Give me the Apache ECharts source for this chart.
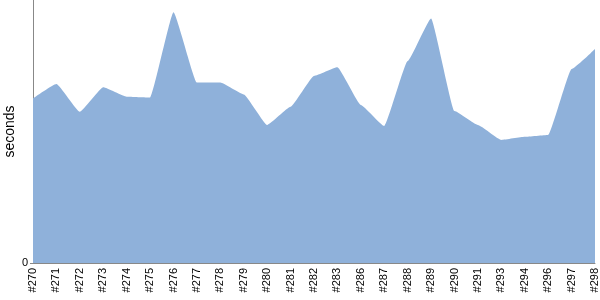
<!DOCTYPE html>
<html><head><meta charset="utf-8">
<script src="https://cdn.jsdelivr.net/npm/echarts@6/dist/echarts.min.js"></script>
<style>html,body{margin:0;padding:0;background:#fff}#c{width:600px;height:300px}</style>
</head><body><div id="c"></div>
<script>
const categories = ['#270','#271','#272','#273','#274','#275','#276','#277','#278','#279','#280','#281','#282','#283','#286','#287','#288','#289','#290','#291','#293','#294','#296','#297','#298'];
const seconds = [62.6,68.1,57.5,66.8,63.2,62.9,95.3,68.6,68.6,64.1,52.5,59.4,71.1,74.4,60.1,52.1,76.8,93.0,57.8,52.5,46.8,48.0,48.7,73.8,81.4];
const yMax = 100;

const chart = echarts.init(document.getElementById('c'), null, {renderer:'canvas'});
chart.setOption({
  animation:false,
  grid:{left:33,right:5,top:0,bottom:37,containLabel:false,outerBoundsMode:'none'},
  xAxis:{
    type:'category', data:categories, boundaryGap:false,
    axisLine:{lineStyle:{color:'#888',width:1}},
    axisTick:{show:false},
    axisLabel:{rotate:90, color:'#000', fontFamily:'Liberation Sans', fontSize:11, interval:0, margin:5}
  },
  yAxis:{
    type:'value', min:0, max:yMax, interval:yMax,
    name:'seconds', nameLocation:'middle', nameGap:16, nameRotate:90, nameMoveOverlap:false,
    nameTextStyle:{color:'#000', fontFamily:'Liberation Sans', fontSize:14},
    axisLine:{show:true, lineStyle:{color:'#888',width:1}},
    axisTick:{show:true, length:3, lineStyle:{color:'#888'}, customValues:[0]},
    splitLine:{show:false},
    axisLabel:{color:'#000', fontFamily:'Liberation Sans', fontSize:11, margin:5, customValues:[0],
      formatter:v=> v===0 ? '0' : ''}
  },
  series:[{
    type:'line', data:seconds, symbol:'none', smooth:0.12, smoothMonotone:'x',
    lineStyle:{width:0, color:'#8fb1da'},
    areaStyle:{color:'#8fb1da', opacity:1}
  }]
});
</script></body></html>
